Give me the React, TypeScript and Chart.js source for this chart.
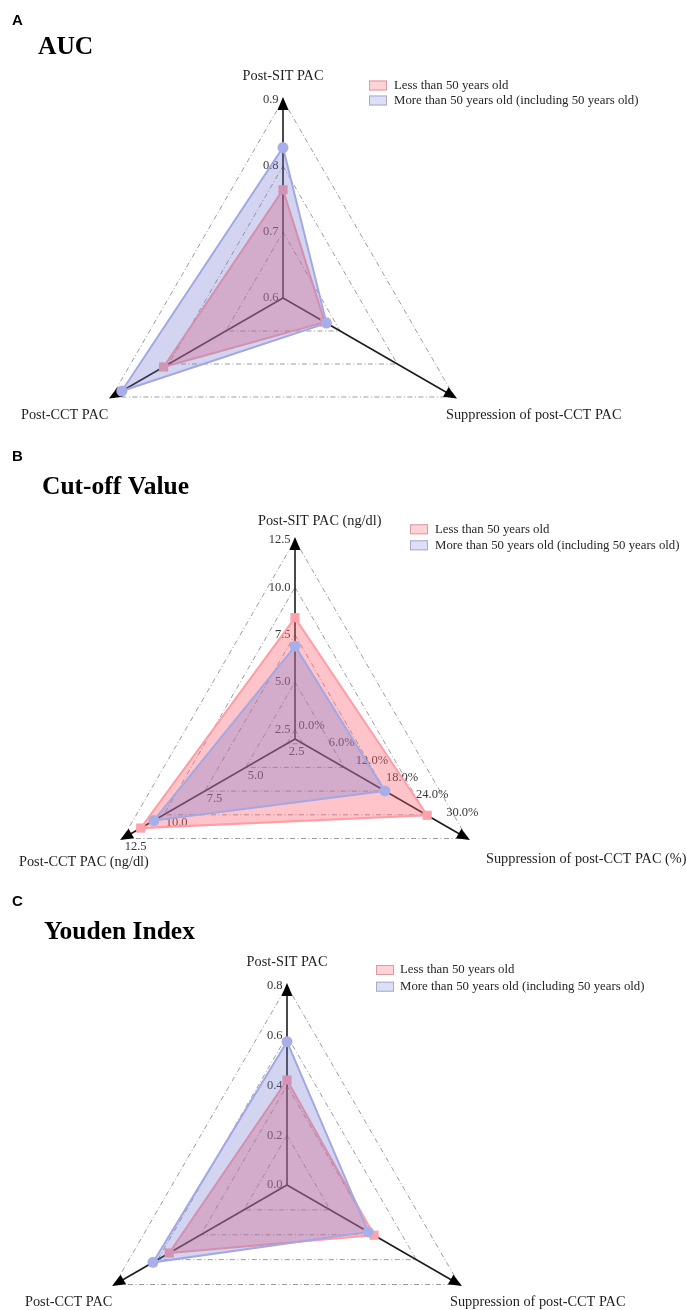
import React, { useEffect, useRef } from "react";
import { Chart, registerables } from "chart.js";

Chart.register(...registerables);

// ---------------- data ----------------
const SERIES_NAMES = ["Less than 50 years old", "More than 50 years old (including 50 years old)"];

const AXES_AUC = ["Post-SIT PAC", "Suppression of post-CCT PAC", "Post-CCT PAC"];
const AUC_UNDER_50 = [0.764, 0.673, 0.809];
const AUC_OVER_50 = [0.828, 0.676, 0.882];
const AUC_TICKS = [0.6, 0.7, 0.8, 0.9];
const AUC_RANGES = [[0.6, 0.9], [0.6, 0.9], [0.6, 0.9]];

const AXES_CUTOFF = ["Post-SIT PAC (ng/dl)", "Suppression of post-CCT PAC (%)", "Post-CCT PAC (ng/dl)"];
const CUTOFF_UNDER_50 = [8.4, 22.0, 11.4];
const CUTOFF_OVER_50 = [6.9, 13.6, 10.6];
const CUTOFF_PAC_TICKS = [2.5, 5.0, 7.5, 10.0, 12.5];
const CUTOFF_SUPP_TICKS = [0, 6, 12, 18, 24, 30];
const CUTOFF_RANGES = [[2.0, 12.5], [-4.3, 30], [2.0, 12.5]];

const AXES_YOUDEN = ["Post-SIT PAC", "Suppression of post-CCT PAC", "Post-CCT PAC"];
const YOUDEN_UNDER_50 = [0.422, 0.404, 0.547];
const YOUDEN_OVER_50 = [0.576, 0.377, 0.622];
const YOUDEN_TICKS = [0.0, 0.2, 0.4, 0.6, 0.8];
const YOUDEN_RANGES = [[0, 0.8], [0, 0.8], [0, 0.8]];

// ---------------- styles / layout ----------------
const SERIF = '"Liberation Serif", "Times New Roman", serif';
const SANS = '"Liberation Sans", Arial, sans-serif';
const PAGE_W = 686;
const PAGE_H = 1310;
const CANVAS_H = 520;

const PINK_LINE = "#ff9ca4";
const PINK_FILL = "rgba(255,100,112,0.38)";
const PINK_POINT = "#ffa2aa";
const BLUE_LINE = "#a2a8e4";
const BLUE_FILL = "rgba(110,112,205,0.30)";
const BLUE_POINT = "#a8aee8";
const LEGEND_FILL = ["#ffd2d6", "#dcdff5"];
const LEGEND_STROKE = ["#d99aa4", "#a9aac8"];

type Placement = "left" | "belowRight" | "aboveLeft";
type TickLabelSet = { axis: number; values: number[]; suffix: string; place: Placement };
type TextPos = { x: number; y: number; align: CanvasTextAlign };
type PanelSpec = {
  top: number;
  letter: string;
  letterPos: { x: number; y: number };
  title: string;
  titlePos: { x: number; y: number };
  axes: string[];
  axisLabelPos: TextPos[];
  ranges: number[][];
  under: number[];
  over: number[];
  gridAxis: number;
  gridValues: number[];
  tickSets: TickLabelSet[];
  cx: number;
  cy: number;
  r: number;
  legendBoxX: number;
  legendTextX: number;
  legendY: number[];
};

const PANELS: PanelSpec[] = [
  {
    top: 0,
    letter: "A",
    letterPos: { x: 12, y: 21 },
    title: "AUC",
    titlePos: { x: 38, y: 47 },
    axes: AXES_AUC,
    axisLabelPos: [
      { x: 283, y: 76, align: "center" },
      { x: 446, y: 415, align: "left" },
      { x: 21, y: 415, align: "left" },
    ],
    ranges: AUC_RANGES,
    under: AUC_UNDER_50,
    over: AUC_OVER_50,
    gridAxis: 0,
    gridValues: AUC_TICKS,
    tickSets: [{ axis: 0, values: AUC_TICKS, suffix: "", place: "left" }],
    cx: 283,
    cy: 298,
    r: 198,
    legendBoxX: 369,
    legendTextX: 394,
    legendY: [85.5, 100.5],
  },
  {
    top: 440,
    letter: "B",
    letterPos: { x: 12, y: 17 },
    title: "Cut-off Value",
    titlePos: { x: 42, y: 47 },
    axes: AXES_CUTOFF,
    axisLabelPos: [
      { x: 258, y: 81, align: "left" },
      { x: 486, y: 419, align: "left" },
      { x: 19, y: 422, align: "left" },
    ],
    ranges: CUTOFF_RANGES,
    under: CUTOFF_UNDER_50,
    over: CUTOFF_OVER_50,
    gridAxis: 0,
    gridValues: CUTOFF_PAC_TICKS,
    tickSets: [
      { axis: 0, values: CUTOFF_PAC_TICKS, suffix: "", place: "left" },
      { axis: 2, values: CUTOFF_PAC_TICKS, suffix: "", place: "belowRight" },
      { axis: 1, values: CUTOFF_SUPP_TICKS, suffix: "%", place: "aboveLeft" },
    ],
    cx: 295,
    cy: 299,
    r: 199,
    legendBoxX: 410,
    legendTextX: 435,
    legendY: [89.3, 105.3],
  },
  {
    top: 880,
    letter: "C",
    letterPos: { x: 12, y: 22 },
    title: "Youden Index",
    titlePos: { x: 44, y: 52 },
    axes: AXES_YOUDEN,
    axisLabelPos: [
      { x: 287, y: 82, align: "center" },
      { x: 450, y: 422, align: "left" },
      { x: 25, y: 422, align: "left" },
    ],
    ranges: YOUDEN_RANGES,
    under: YOUDEN_UNDER_50,
    over: YOUDEN_OVER_50,
    gridAxis: 0,
    gridValues: YOUDEN_TICKS,
    tickSets: [{ axis: 0, values: YOUDEN_TICKS, suffix: "", place: "left" }],
    cx: 287,
    cy: 305,
    r: 199,
    legendBoxX: 376,
    legendTextX: 400,
    legendY: [90, 106.7],
  },
];

const norm = (v: number, range: number[]) => (v - range[0]) / (range[1] - range[0]);

function makePlugin(spec: PanelSpec) {
  return {
    id: "panelDecor" + spec.letter,
    beforeDatasetsDraw(chart: any) {
      const scale = chart.scales.r;
      const ctx: CanvasRenderingContext2D = chart.ctx;
      ctx.save();
      // arrow heads at axis tips
      for (let i = 0; i < spec.axes.length; i++) {
        const tip = scale.getPointPosition(i, scale.drawingArea + 3);
        const base = scale.getPointPosition(i, scale.drawingArea - 10);
        const ang = Math.atan2(tip.y - base.y, tip.x - base.x);
        const hw = 5.5;
        ctx.beginPath();
        ctx.moveTo(tip.x, tip.y);
        ctx.lineTo(base.x + hw * Math.cos(ang + Math.PI / 2), base.y + hw * Math.sin(ang + Math.PI / 2));
        ctx.lineTo(base.x + hw * Math.cos(ang - Math.PI / 2), base.y + hw * Math.sin(ang - Math.PI / 2));
        ctx.closePath();
        ctx.fillStyle = "#000";
        ctx.fill();
      }
      // tick labels (under the fills)
      ctx.font = `12.5px ${SERIF}`;
      ctx.fillStyle = "#383838";
      ctx.textBaseline = "middle";
      for (const set of spec.tickSets) {
        const range = spec.ranges[set.axis];
        for (const v of set.values) {
          const p = scale.getPointPositionForValue(set.axis, norm(v, range));
          const txt = v.toFixed(1) + set.suffix;
          if (set.place === "left") {
            ctx.textAlign = "right";
            ctx.fillText(txt, p.x - 4.5, p.y);
          } else if (set.place === "belowRight") {
            ctx.textAlign = "left";
            ctx.fillText(txt, p.x + 2, p.y + 8);
          } else {
            ctx.textAlign = "center";
            ctx.fillText(txt, p.x - 5, p.y - 26);
          }
        }
      }
      ctx.restore();
    },
    afterDraw(chart: any) {
      const ctx: CanvasRenderingContext2D = chart.ctx;
      ctx.save();
      ctx.textBaseline = "middle";
      // panel letter
      ctx.fillStyle = "#000";
      ctx.textAlign = "left";
      ctx.font = `bold 15px ${SANS}`;
      ctx.fillText(spec.letter, spec.letterPos.x, spec.letterPos.y);
      // title
      ctx.font = `bold 25.5px ${SERIF}`;
      ctx.fillText(spec.title, spec.titlePos.x, spec.titlePos.y);
      // axis names
      ctx.font = `14.3px ${SERIF}`;
      ctx.fillStyle = "#1e1e1e";
      spec.axes.forEach((name, i) => {
        const pos = spec.axisLabelPos[i];
        ctx.textAlign = pos.align;
        ctx.fillText(name, pos.x, pos.y);
      });
      // legend
      ctx.font = `12.8px ${SERIF}`;
      SERIES_NAMES.forEach((name, i) => {
        const y = spec.legendY[i];
        ctx.fillStyle = LEGEND_FILL[i];
        ctx.fillRect(spec.legendBoxX, y - 5, 18, 10);
        ctx.strokeStyle = LEGEND_STROKE[i];
        ctx.lineWidth = 1;
        ctx.strokeRect(spec.legendBoxX + 0.5, y - 4.5, 17, 9);
        ctx.fillStyle = "#262626";
        ctx.textAlign = "left";
        ctx.fillText(name, spec.legendTextX, y);
      });
      ctx.restore();
    },
  };
}

function RadarPanel({ spec }: { spec: PanelSpec }) {
  const ref = useRef<HTMLCanvasElement>(null);
  useEffect(() => {
    if (!ref.current) return;
    const under = spec.under.map((v, i) => norm(v, spec.ranges[i]));
    const over = spec.over.map((v, i) => norm(v, spec.ranges[i]));
    const levels = spec.gridValues
      .map((v) => norm(v, spec.ranges[spec.gridAxis]))
      .filter((v) => v > 1e-6);
    const chart = new Chart(ref.current, {
      type: "radar",
      data: {
        labels: spec.axes,
        datasets: [
          {
            label: SERIES_NAMES[0],
            data: under,
            order: 2,
            fill: true,
            backgroundColor: PINK_FILL,
            borderColor: PINK_LINE,
            borderWidth: 2,
            pointStyle: "rect",
            pointRadius: 6.5,
            pointBackgroundColor: PINK_POINT,
            pointBorderColor: PINK_POINT,
            pointBorderWidth: 0,
          },
          {
            label: SERIES_NAMES[1],
            data: over,
            order: 1,
            fill: true,
            backgroundColor: BLUE_FILL,
            borderColor: BLUE_LINE,
            borderWidth: 2,
            pointStyle: "circle",
            pointRadius: 5.5,
            pointBackgroundColor: BLUE_POINT,
            pointBorderColor: BLUE_POINT,
            pointBorderWidth: 0,
          },
        ],
      },
      options: {
        animation: false,
        responsive: false,
        maintainAspectRatio: false,
        events: [],
        layout: {
          padding: {
            left: spec.cx - spec.r,
            right: PAGE_W - spec.cx - spec.r,
            top: spec.cy - spec.r,
            bottom: CANVAS_H - spec.cy - spec.r,
          },
        },
        elements: { line: { tension: 0 } },
        plugins: {
          legend: { display: false },
          tooltip: { enabled: false },
          title: { display: false },
        },
        scales: {
          r: {
            min: 0,
            max: 1,
            startAngle: 0,
            ticks: { display: false },
            pointLabels: { display: false },
            grid: { color: "#9c9c9c", lineWidth: 1, circular: false },
            border: { dash: [5, 2.5, 1, 2.5] },
            angleLines: { display: true, color: "#1c1c1c", lineWidth: 1.6 },
            afterBuildTicks: (axis: any) => {
              axis.ticks = [{ value: 0 }, ...levels.map((v) => ({ value: v }))];
            },
          } as any,
        },
      },
      plugins: [makePlugin(spec) as any],
    } as any);
    return () => chart.destroy();
  }, [spec]);
  return (
    <canvas
      ref={ref}
      width={PAGE_W}
      height={CANVAS_H}
      style={{ position: "absolute", left: 0, top: spec.top, width: PAGE_W, height: CANVAS_H }}
    />
  );
}

export default function App() {
  useEffect(() => {
    document.body.style.margin = "0";
  }, []);
  return (
    <div
      style={{
        position: "relative",
        width: PAGE_W,
        height: PAGE_H,
        overflow: "hidden",
        background: "#ffffff",
      }}
    >
      <style>{"body{margin:0}"}</style>
      {PANELS.map((p) => (
        <RadarPanel key={p.letter} spec={p} />
      ))}
    </div>
  );
}
